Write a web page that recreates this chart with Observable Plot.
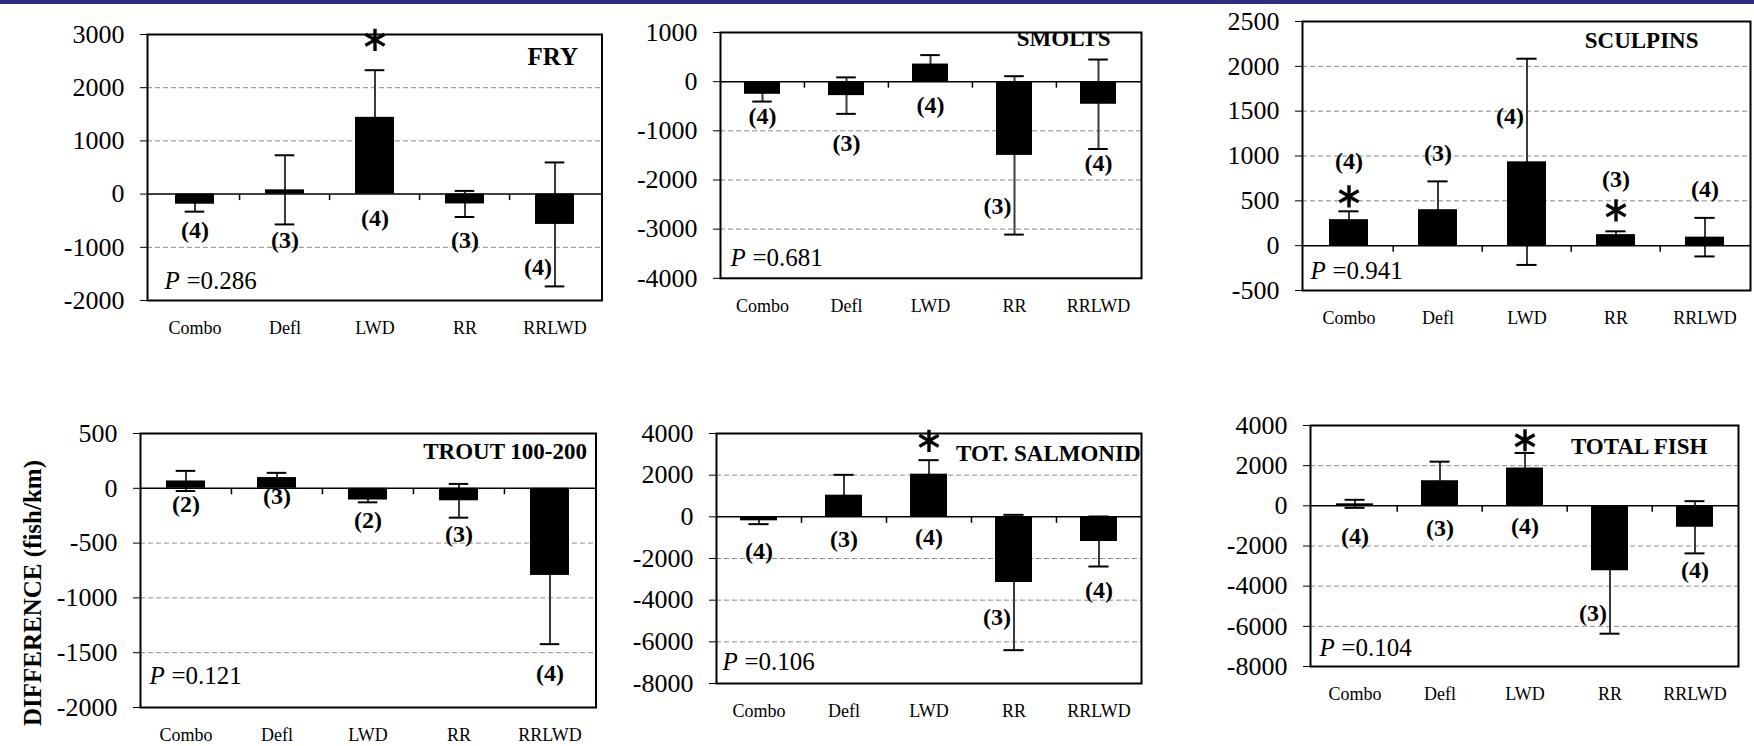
<!DOCTYPE html>
<html><head><meta charset="utf-8">
<script src="https://cdn.jsdelivr.net/npm/d3@7"></script>
<script src="https://cdn.jsdelivr.net/npm/@observablehq/plot@0.6"></script>
<style>
html,body{margin:0;padding:0;width:1754px;height:746px;overflow:hidden;background:#fff;font-family:"Liberation Serif","Times New Roman",serif;}
#band{position:absolute;left:0;top:0;width:1754px;height:4px;background:#2e2c7e;}
.panel{position:absolute;}
.panel svg{overflow:visible;max-width:none;font-family:"Liberation Serif","Times New Roman",serif !important;}
.panel svg text{font-family:"Liberation Serif","Times New Roman",serif;}
#ytitle{position:absolute;left:33px;top:593px;transform:translate(-50%,-50%) rotate(-90deg);white-space:nowrap;font-weight:bold;font-size:25px;color:#000;}
</style></head><body>
<div id="band"></div>
<div id="ytitle">DIFFERENCE (fish/km)</div>
<script>
const categories = ["Combo", "Defl", "LWD", "RR", "RRLWD"];

// FRY
const fryMean = [-190, 80, 1443, -185, -570];
const fryErr = [140, 650, 886, 245, 1165];
const fryN = [4, 3, 4, 3, 4];
const fryNY = [-677, -867, -456, -867, -1373];
const fryStar = [null, null, 2900, null, null];
const fryTicks = [-2000, -1000, 0, 1000, 2000, 3000];
const fryP = "0.286";

// SMOLTS
const smoltsMean = [-257, -284, 358, -1500, -460];
const smoltsErr = [148, 371, 182, 1611, 910];
const smoltsN = [4, 3, 4, 3, 4];
const smoltsNY = [-709, -1250, -473, -2534, -1655];
const smoltsStar = [null, null, null, null, null];
const smoltsTicks = [-4000, -3000, -2000, -1000, 0, 1000];
const smoltsP = "0.681";

// SCULPINS
const sculpinsMean = [290, 401, 935, 123, 95];
const sculpinsErr = [93, 316, 1150, 37, 215];
const sculpinsN = [4, 3, 4, 3, 4];
const sculpinsNY = [940, 1033, 1442, 736, 624];
const sculpinsStar = [550, null, null, 394, null];
const sculpinsTicks = [-500, 0, 500, 1000, 1500, 2000, 2500];
const sculpinsP = "0.941";

// TROUT 100-200
const troutMean = [67, 98, -107, -114, -795];
const troutErr = [92, 43, 21, 154, 627];
const troutN = [2, 3, 2, 3, 4];
const troutNY = [-147, -76, -290, -422, -1688];
const troutStar = [null, null, null, null, null];
const troutTicks = [-2000, -1500, -1000, -500, 0, 500];
const troutP = "0.121";

// TOT. SALMONID
const salmonidMean = [-192, 1040, 2048, -3152, -1184];
const salmonidErr = [160, 976, 672, 3248, 1200];
const salmonidN = [4, 3, 4, 3, 4];
const salmonidNY = [-1664, -1072, -992, -4832, -3520];
const salmonidStar = [null, null, 3648, null, null];
const salmonidTicks = [-8000, -6000, -4000, -2000, 0, 2000, 4000];
const salmonidP = "0.106";

// TOTAL FISH
const totalMean = [100, 1250, 1883, -3233, -1067];
const totalErr = [200, 950, 750, 3133, 1300];
const totalN = [4, 3, 4, 3, 4];
const totalNY = [-1533, -1117, -1033, -5367, -3200];
const totalStar = [null, null, 3267, null, null];
const totalTicks = [-8000, -6000, -4000, -2000, 0, 2000, 4000];
const totalP = "0.104";

const panels = [
  {title: "FRY", p: fryP, mean: fryMean, err: fryErr, n: fryN, ny: fryNY, star: fryStar, ticks: fryTicks},
  {title: "SMOLTS", p: smoltsP, mean: smoltsMean, err: smoltsErr, n: smoltsN, ny: smoltsNY, star: smoltsStar, ticks: smoltsTicks},
  {title: "SCULPINS", p: sculpinsP, mean: sculpinsMean, err: sculpinsErr, n: sculpinsN, ny: sculpinsNY, star: sculpinsStar, ticks: sculpinsTicks},
  {title: "TROUT 100-200", p: troutP, mean: troutMean, err: troutErr, n: troutN, ny: troutNY, star: troutStar, ticks: troutTicks},
  {title: "TOT. SALMONID", p: salmonidP, mean: salmonidMean, err: salmonidErr, n: salmonidN, ny: salmonidNY, star: salmonidStar, ticks: salmonidTicks},
  {title: "TOTAL FISH", p: totalP, mean: totalMean, err: totalErr, n: totalN, ny: totalNY, star: totalStar, ticks: totalTicks}
];

// layout (pixel frame positions of each panel)
const layout = [
  {fl: 147, ft: 34, fr: 601.5, fb: 300, tR: 24, tB: 30, tS: 25, pL: 17, pB: 12},
  {fl: 720, ft: 31.7, fr: 1141, fb: 277.5, tR: 31, tB: 13.5, tS: 23, pL: 10, pB: 12.5},
  {fl: 1302, ft: 21, fr: 1750, fb: 290, tR: 52, tB: 26, tS: 23, pL: 8, pB: 12},
  {fl: 140, ft: 433, fr: 595.5, fb: 707, tR: 9, tB: 25, tS: 23, pL: 9, pB: 24},
  {fl: 716, ft: 433, fr: 1141, fb: 683, tR: 1, tB: 27, tS: 23, pL: 6, pB: 14},
  {fl: 1310, ft: 425, fr: 1738, fb: 666, tR: 31, tB: 28, tS: 23, pL: 9, pB: 11}
];

const FONT = "'Liberation Serif', 'Times New Roman', serif";
const ML = 100, MR = 4, MT = 14, MB = 50;
const PAD = 0.567;
const vtick = {draw(ctx) { ctx.moveTo(0, 0); ctx.lineTo(0, 6); }};
const fmt = v => String(v);

panels.forEach((d, k) => {
  const L = layout[k];
  const step = (L.fr - L.fl) / categories.length;
  const bw = step * (1 - PAD);
  const capInset = (bw - 20) / 2;
  const rows = categories.map((c, i) => {
    const r = {cat: c, mean: d.mean[i], lo: d.mean[i] - d.err[i], hi: d.mean[i] + d.err[i], n: d.n[i], ny: d.ny[i], star: d.star[i]};
    const inBar = r.mean >= 0 ? (r.ny >= 0 && r.ny <= r.mean) : (r.ny <= 0 && r.ny >= r.mean);
    r.left = r.ny > r.lo && r.ny < r.hi && !inBar;
    return r;
  });
  const t = d.ticks;
  const W = (L.fr - L.fl) + ML + MR;
  const H = (L.fb - L.ft) + MT + MB;
  const chart = Plot.plot({
    width: W, height: H,
    marginLeft: ML, marginRight: MR, marginTop: MT, marginBottom: MB,
    style: {background: "transparent", overflow: "visible", color: "black", fontFamily: FONT},
    x: {domain: categories, paddingInner: PAD, paddingOuter: PAD / 2, align: 0.5},
    y: {domain: [t[0], t[t.length - 1]]},
    marks: [
      Plot.gridY(t.filter(v => v !== 0), {stroke: "#8a8a8a", strokeOpacity: 1, strokeDasharray: "5,3", strokeWidth: 1}),
      Plot.ruleX(rows, {x: "cat", y1: "lo", y2: "hi", stroke: "#3a3a3a", strokeWidth: 2}),
      Plot.tickY(rows, {x: "cat", y: "hi", stroke: "black", strokeWidth: 2, insetLeft: capInset, insetRight: capInset}),
      Plot.tickY(rows, {x: "cat", y: "lo", stroke: "black", strokeWidth: 2, insetLeft: capInset, insetRight: capInset}),
      Plot.barY(rows, {x: "cat", y: "mean", fill: "black"}),
      Plot.ruleY([0], {stroke: "black", strokeWidth: 1.5}),
      Plot.dot(categories.slice(1), {x: c => c, y: () => 0, symbol: vtick, fill: "none", stroke: "black", strokeWidth: 1.5, dx: -step / 2}),
      Plot.frame({stroke: "black", strokeWidth: 2}),
      Plot.axisY(t, {tickSize: 7, tickPadding: 16, fontSize: 26, fontFamily: FONT, tickFormat: fmt, label: null}),
      Plot.axisX({tickSize: 0, tickPadding: 21, fontSize: 18, fontFamily: FONT, label: null}),
      Plot.text(rows.filter(r => !r.left), {x: "cat", y: "ny", text: r => `(${r.n})`, fontFamily: FONT, fontWeight: "bold", fontSize: 24, fill: "black"}),
      Plot.text(rows.filter(r => r.left), {x: "cat", y: "ny", text: r => `(${r.n})`, fontFamily: FONT, fontWeight: "bold", fontSize: 24, fill: "black", textAnchor: "end", dx: -3}),
      Plot.dot(rows.filter(r => r.star != null), {x: "cat", y: "star", symbol: "asterisk", r: 10.5, stroke: "black", strokeWidth: 3.4}),
      Plot.text([d.title], {text: s => s, frameAnchor: "top-right", dx: -L.tR, dy: L.tB, lineAnchor: "bottom", textAnchor: "end", fontFamily: FONT, fontWeight: "bold", fontSize: L.tS, fill: "black", clip: true}),
      Plot.text(["P"], {text: s => s, frameAnchor: "bottom-left", dx: L.pL, dy: -L.pB, lineAnchor: "bottom", textAnchor: "start", fontFamily: FONT, fontStyle: "italic", fontSize: 25, fill: "black"}),
      Plot.text(["=" + d.p], {text: s => s, frameAnchor: "bottom-left", dx: L.pL + 22, dy: -L.pB, lineAnchor: "bottom", textAnchor: "start", fontFamily: FONT, fontSize: 25, fill: "black"})
    ]
  });
  const div = document.createElement("div");
  div.className = "panel";
  div.style.left = (L.fl - ML) + "px";
  div.style.top = (L.ft - MT) + "px";
  div.appendChild(chart);
  document.body.appendChild(div);
});
</script>
</body></html>
